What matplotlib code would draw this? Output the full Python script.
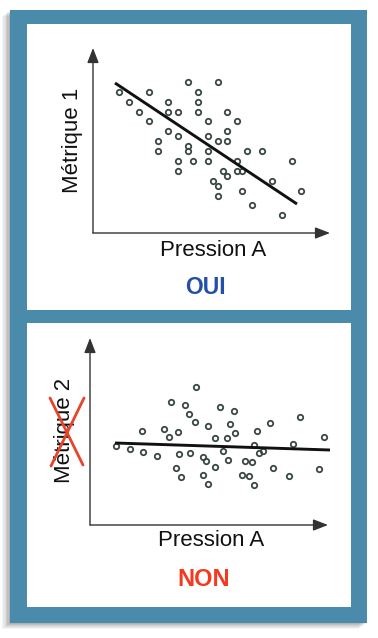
import matplotlib
matplotlib.use("Agg")
import matplotlib.pyplot as plt
from matplotlib.patches import Rectangle

plt.rcParams['font.family'] = ['Liberation Sans', 'DejaVu Sans']

# ---- data ----
top_x = [2.6, 3.6, 4.6, 5.6, 5.6, 6.5, 6.5, 7.5, 7.5, 7.5, 8.5, 8.5, 8.5, 8.5,
         9.5, 9.5, 9.5, 10.0, 10.5, 10.5, 10.5, 11.5, 11.5, 11.5, 11.5, 12.0,
         12.5, 12.5, 12.5, 12.5, 13.0, 13.4, 13.4, 13.4, 13.4, 14.4, 14.4, 14.4,
         14.9, 14.9, 15.4, 15.9, 16.9, 17.9, 18.9, 19.9, 20.8]
top_y = [14.1, 13.1, 12.1, 14.1, 11.2, 9.2, 8.2, 13.1, 12.1, 10.2, 12.1, 9.7, 7.2, 6.2,
         15.1, 8.7, 8.2, 7.2, 14.1, 13.1, 12.1, 11.2, 9.7, 8.2, 7.2, 5.2,
         15.1, 9.2, 4.7, 3.7, 6.2, 12.1, 10.2, 9.2, 5.7, 11.2, 7.2, 6.2,
         6.2, 4.2, 8.2, 2.8, 8.2, 5.2, 1.8, 7.2, 4.2]
top_line_x = [2.2, 20.4]
top_line_y = [15.0, 2.9]

bot_x = [2.6, 4.0, 5.2, 5.3, 6.7, 7.4, 7.9, 8.1, 8.6, 8.8, 8.9, 9.1, 9.5, 9.9,
         10.0, 10.5, 10.6, 11.3, 11.3, 11.6, 11.8, 11.8, 12.5, 12.5, 13.0, 13.3,
         13.7, 13.8, 14.0, 14.4, 14.5, 15.2, 15.5, 15.9, 16.2, 16.4, 16.4, 16.7,
         16.9, 17.3, 18.0, 18.3, 19.9, 20.3, 21.0, 22.9, 23.4]
bot_y = [7.9, 7.6, 9.4, 7.3, 6.9, 9.6, 8.8, 12.3, 5.7, 9.3, 7.1, 4.8, 12.0, 11.1,
         7.2, 10.3, 13.8, 5.0, 6.8, 6.4, 4.1, 9.9, 8.7, 5.8, 11.8, 7.4,
         8.7, 6.5, 10.1, 11.4, 9.2, 5.0, 6.4, 4.9, 6.3, 8.0, 4.0, 9.4,
         7.2, 7.4, 10.2, 5.7, 4.9, 8.1, 10.8, 5.6, 8.8]
bot_line_x = [2.5, 24.0]
bot_line_y = [8.2, 7.5]

x_label = "Pression A"
top_ylabel = "Métrique 1"
bot_ylabel = "Métrique 2"
top_verdict = "OUI"
bot_verdict = "NON"

# ---- figure ----
W, H = 378, 638
fig = plt.figure(figsize=(W / 100, H / 100), dpi=100)
fig.patch.set_facecolor('white')

bg = fig.add_axes([0, 0, 1, 1])
bg.set_xlim(0, W)
bg.set_ylim(H, 0)
bg.axis('off')

FRAME = '#4a8aab'
# soft shadow
for i, a in enumerate([0.04, 0.05, 0.05, 0.06, 0.07, 0.08]):
    off = 8 - i * 1.3
    bg.add_patch(Rectangle((10 - off, 10 + off * 0.7), 357, 613, facecolor='#000000',
                           alpha=a, edgecolor='none', zorder=0))
bg.add_patch(Rectangle((10, 10), 357, 613, facecolor=FRAME, edgecolor='none', zorder=1))
bg.add_patch(Rectangle((27, 24), 324, 286, facecolor='white', edgecolor='none', zorder=2))
bg.add_patch(Rectangle((27, 323), 324, 284, facecolor='white', edgecolor='none', zorder=2))

AX_COL = '#333333'
PT_COL = '#3a4745'


def make_panel(ox, oy, tipx, tipy, xmax, ymax, xs, ys, lx, ly):
    ax = fig.add_axes([ox / W, (H - oy) / H, (tipx - ox) / W, (oy - tipy) / H])
    ax.set_xlim(0, xmax)
    ax.set_ylim(0, ymax)
    ax.axis('off')
    ax.set_zorder(3)
    ap = dict(arrowstyle='-|>,head_length=0.9,head_width=0.35', color=AX_COL,
              lw=1.0, shrinkA=0, shrinkB=0)
    ax.annotate('', xy=(1, 0), xytext=(0, 0), xycoords='axes fraction',
                textcoords='axes fraction', arrowprops=ap)
    ax.annotate('', xy=(0, 1), xytext=(0, 0), xycoords='axes fraction',
                textcoords='axes fraction', arrowprops=ap)
    ax.plot(xs, ys, linestyle='none', marker='o', ms=3.9, mfc='none',
            mec=PT_COL, mew=1.3, clip_on=False)
    ax.plot(lx, ly, color='#111111', lw=2.1, solid_capstyle='butt', clip_on=False)
    return ax


make_panel(93, 233, 330, 48, 23.7, 18.5, top_x, top_y, top_line_x, top_line_y)
make_panel(90, 525, 328, 338, 23.8, 18.7, bot_x, bot_y, bot_line_x, bot_line_y)

# texts
bg.text(72.5, 140, top_ylabel, rotation=90, ha='center', va='center',
        fontsize=16, color='#111111', zorder=5)
bg.text(213, 251, x_label, ha='center', va='center', fontsize=16,
        color='#111111', zorder=5)
bg.text(205, 288, top_verdict, ha='center', va='center', fontsize=16.5,
        fontweight='bold', color='#2350a6', zorder=5)

bg.text(64.5, 430, bot_ylabel, rotation=90, ha='center', va='center',
        fontsize=16, color='#111111', zorder=5)
bg.text(211, 541, x_label, ha='center', va='center', fontsize=16,
        color='#111111', zorder=5)
bg.text(204, 579, bot_verdict, ha='center', va='center', fontsize=17,
        fontweight='bold', color='#f5391e', zorder=5)

# red cross over "Métrique 2"
RED = '#e8432b'
bg.plot([50, 83], [398, 465], color=RED, lw=2.0, zorder=6, solid_capstyle='round')
bg.plot([84, 51], [398, 466], color=RED, lw=2.0, zorder=6, solid_capstyle='round')

fig.savefig('out.png', dpi=100)
